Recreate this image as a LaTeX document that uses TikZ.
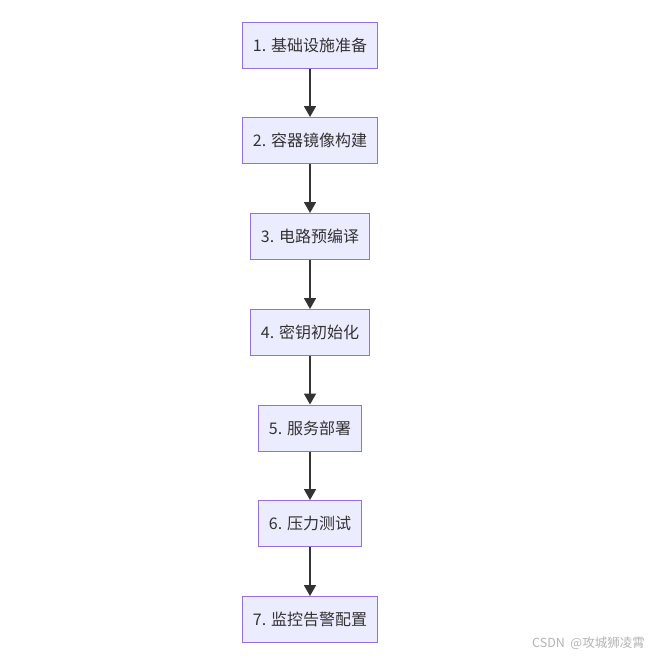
\documentclass[tikz,border=0pt]{standalone}
\usepackage{fontspec}
\setmainfont{Noto Sans CJK SC}
\usetikzlibrary{arrows.meta}
\definecolor{boxfill}{HTML}{ECECFF}
\definecolor{boxline}{HTML}{9370DB}
\definecolor{ink}{HTML}{333333}
\definecolor{wm}{HTML}{B4B4B4}
\begin{document}
\begin{tikzpicture}[x=1pt,y=-1pt,
  stepbox/.style={draw=boxline,fill=boxfill,line width=1pt,minimum height=46pt,inner sep=0pt,
    text=ink,font=\fontsize{16}{19}\selectfont},
  flow/.style={draw=ink,line width=1.8pt,-{Triangle[length=11pt,width=12pt]}}]
\useasboundingbox[fill=white] (0,0) rectangle (653,657);
\node[stepbox,minimum width=135pt] (n1) at (310,45) {1. 基础设施准备};
\node[stepbox,minimum width=135pt] (n2) at (310,140.5) {2. 容器镜像构建};
\node[stepbox,minimum width=119pt] (n3) at (310,236.5) {3. 电路预编译};
\node[stepbox,minimum width=119pt] (n4) at (310,332.5) {4. 密钥初始化};
\node[stepbox,minimum width=103pt] (n5) at (310,428) {5. 服务部署};
\node[stepbox,minimum width=103pt] (n6) at (310,523.5) {6. 压力测试};
\node[stepbox,minimum width=135pt] (n7) at (310,619.5) {7. 监控告警配置};
\draw[flow] (n1) -- (n2);
\draw[flow] (n2) -- (n3);
\draw[flow] (n3) -- (n4);
\draw[flow] (n4) -- (n5);
\draw[flow] (n5) -- (n6);
\draw[flow] (n6) -- (n7);
\node[anchor=east,text=wm,inner sep=0pt,font=\fontsize{12.5}{14}\selectfont] (wmk) at (645,643) {CSDN\ \ @攻城狮凌霄};
\end{tikzpicture}
\end{document}
